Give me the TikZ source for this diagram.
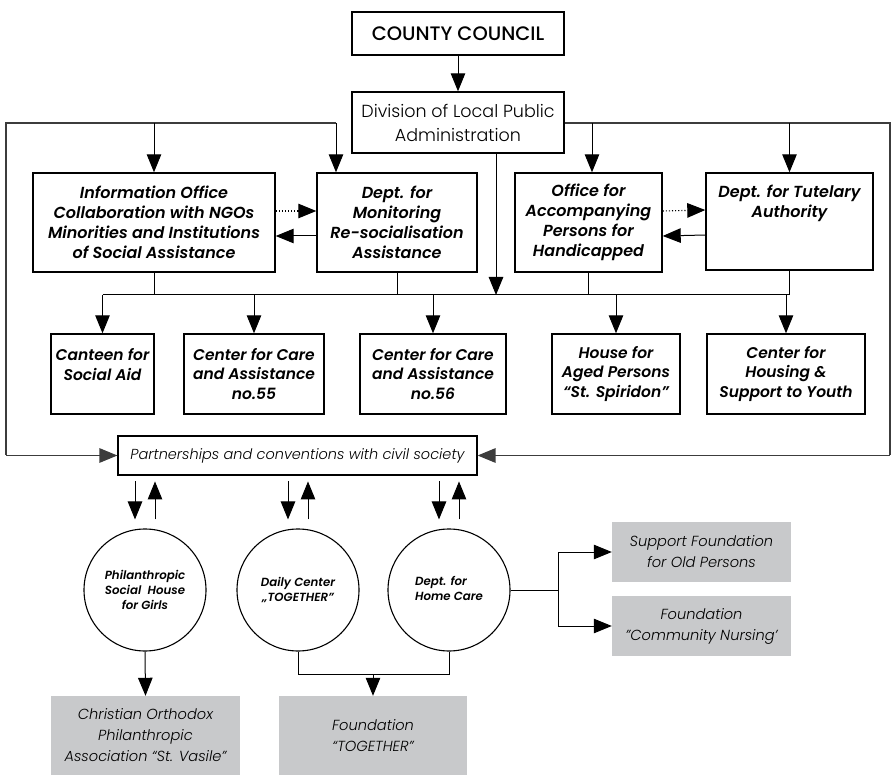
\documentclass[tikz,border=0pt]{standalone}
\usepackage{fontspec}
\setmainfont{Poppins}[UprightFont=* Light, ItalicFont=* Light Italic, BoldFont=* Medium, BoldItalicFont=* Medium Italic]
\newfontfamily\popsemi{Poppins}[UprightFont=* SemiBold, ItalicFont=* SemiBold Italic]
\usetikzlibrary{arrows.meta,calc}
\definecolor{fillgray}{RGB}{200,201,203}
\definecolor{linegray}{RGB}{60,60,60}
\tikzset{
  ln/.style={line width=1pt},
  arr/.style={line width=1pt,-{Triangle[length=18pt,width=14.5pt]}},
  darr/.style={line width=1.1pt,dotted,-{Triangle[length=18pt,width=14.5pt]}},
  frame/.style={draw,line width=1.4pt,inner sep=0pt,align=center},
  unit/.style={frame,font=\fontsize{16}{20}\selectfont\popsemi\itshape},
  svc/.style={frame,font=\fontsize{15.5}{19.5}\selectfont\popsemi\itshape},
  circ/.style={draw,line width=1.1pt,circle,minimum size=122pt,inner sep=0pt,align=center,font=\fontsize{11.8}{15}\selectfont\popsemi\itshape},
  gbox/.style={fill=fillgray,inner sep=0pt,align=center,font=\fontsize{14.6}{21}\selectfont\itshape},
}
\begin{document}
\begin{tikzpicture}[x=1pt,y=-1pt]
\useasboundingbox (0,0) rectangle (892,775);
% top
\node[draw,line width=2.2pt,minimum width=212pt,minimum height=43pt,font=\fontsize{19.5}{22}\selectfont\bfseries] (cc) at (458,33.5) {COUNTY COUNCIL};
\node[frame,minimum width=212pt,minimum height=61pt,font=\fontsize{17.5}{24}\selectfont] (div) at (458,122.5) {Division of Local Public\\Administration};
% units
\node[unit,minimum width=242pt,minimum height=99pt] (info) at (154,222.5) {Information Office\\Collaboration with NGOs\\Minorities and Institutions\\of Social Assistance};
\node[unit,minimum width=160pt,minimum height=99pt] (mon) at (397,222.5) {Dept. for\\Monitoring\\Re-socialisation\\Assistance};
\node[unit,minimum width=147pt,minimum height=99pt] (acc) at (588.5,222.5) {Office for\\Accompanying\\Persons for\\Handicapped};
\node[unit,minimum width=167pt,minimum height=97pt] (tut) at (789.5,221.5) {Dept. for Tutelary\\Authority\\~\\~};
% services
\node[svc,minimum width=103pt,minimum height=80pt] (can) at (102.5,374) {Canteen for\\Social Aid\\~};
\node[svc,minimum width=140pt,minimum height=80pt] (c55) at (254,374) {Center for Care\\and Assistance\\no.55};
\node[svc,minimum width=146pt,minimum height=80pt] (c56) at (433,374) {Center for Care\\and Assistance\\no.56};
\node[svc,minimum width=128pt,minimum height=80pt] (hou) at (616,374) {House for\\Aged Persons\\“St. Spiridon”};
\node[svc,minimum width=158pt,minimum height=80pt] (yth) at (786,374) {Center for\\Housing \&\\Support to Youth};
% partnerships
\node[draw,line width=1.2pt,inner sep=0pt,minimum width=359pt,minimum height=39pt,font=\fontsize{14.5}{17}\selectfont\itshape] (par) at (297.5,455.5) {Partnerships and conventions with civil society};
% circles
\node[circ] (o1) at (145,590) {Philanthropic\\Social~ House\\for Girls};
\node[circ] (o2) at (298,590) {Daily Center\\„TOGETHER”};
\node[circ] (o3) at (449,590) {\begin{tabular}{@{}l@{}}Dept. for\\Home Care\end{tabular}};
% gray boxes
\node[gbox,minimum width=179pt,minimum height=60pt] (sup) at (701.5,552) {Support Foundation\\for Old Persons};
\node[gbox,minimum width=179pt,minimum height=60pt] (nur) at (701.5,626) {Foundation\\”Community Nursing'};
\node[gbox,minimum width=189pt,minimum height=79pt] (chr) at (145.5,735.5) {Christian Orthodox\\Philanthropic\\Association “St. Vasile”};
\node[gbox,minimum width=188pt,minimum height=79pt] (tog) at (373,735.5) {Foundation\\“TOGETHER”};
% coordinates
\coordinate (lt) at (6,123);
\coordinate (rt) at (890,123);
\coordinate (bus) at (496,295);
% top connectors
\draw[arr] (cc) -- (div);
\draw[ln,draw=linegray,line width=1.4pt] (336,123) -- (lt) -- (lt |- par.west);
\draw[arr,draw=linegray,line width=1.4pt] (lt |- par.west) -- (par.west);
\draw[ln,draw=linegray,line width=1.4pt] (div.east |- rt) -- (rt) -- (rt |- par.east);
\draw[arr,draw=linegray,line width=1.4pt] (rt |- par.east) -- (par.east);
\draw[arr] (154,123) -- (info.north);
\draw[arr] (336,123) -- (336,123 |- mon.north);
\draw[arr] (592,123) -- (592,123 |- acc.north);
\draw[arr] (789.5,123) -- (tut.north);
% lateral
\draw[darr] ([yshift=11.5pt]info.east) -- ([yshift=11.5pt]mon.west);
\draw[arr] ([yshift=-13.5pt]mon.west) -- ([yshift=-13.5pt]info.east);
\draw[darr] ([yshift=11.5pt]acc.east) -- ([yshift=11.5pt]tut.west);
\draw[arr] ([yshift=-13.5pt]tut.west) -- ([yshift=-13.5pt]acc.east);
% bus
\draw[arr] (bus |- div.south) -- (bus);
\draw[ln] (info.south) -- (info.south |- bus);
\draw[ln] (mon.south) -- (mon.south |- bus);
\draw[ln] (acc.south) -- (acc.south |- bus);
\draw[ln] (tut.south) -- (tut.south |- bus);
\draw[ln] (can.north |- bus) -- (tut.south |- bus);
\foreach \n in {can,c55,c56,hou,yth}{\draw[arr] (\n.north |- bus) -- (\n.north);}
% pairs
\foreach \n in {o1,o2,o3}{
  \draw[arr] ($(\n.north)+(-10,-47)$) -- ($(\n.north)+(-10,-9)$);
  \draw[arr] ($(\n.north)+(10,-9)$) -- ($(\n.north)+(10,-47)$);
}
% right branch
\coordinate (br) at (558,590);
\draw[ln] (o3.east) -- (br);
\draw[ln] (br |- sup.west) -- (br |- nur.west);
\draw[arr] (br |- sup.west) -- (sup.west);
\draw[arr] (br |- nur.west) -- (nur.west);
% bottom
\draw[arr] (o1.south) -- (chr.north);
\coordinate (jn) at (373,674);
\draw[ln] (o2.south) -- (o2.south |- jn) -- (o3.south |- jn) -- (o3.south);
\draw[arr] (jn) -- (tog.north);
\end{tikzpicture}
\end{document}
